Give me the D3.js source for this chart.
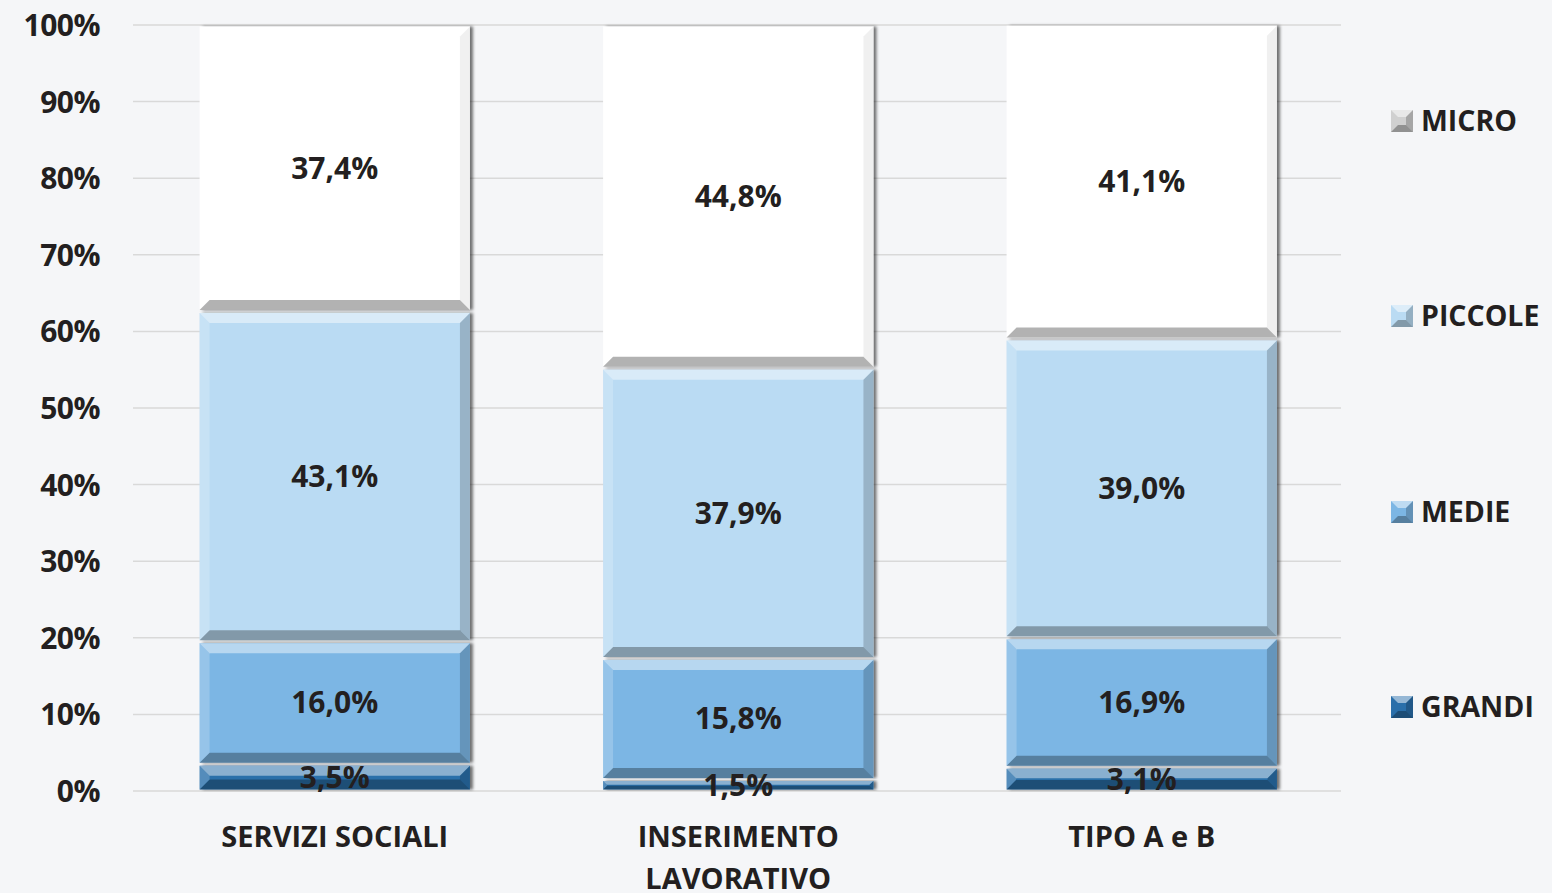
<!DOCTYPE html>
<html><head><meta charset="utf-8">
<script src="https://cdn.jsdelivr.net/npm/d3@7"></script>
<style>
html,body{margin:0;padding:0;background:#f5f6f8;}
text{font-family:"Open Sans",sans-serif;font-weight:700;fill:#231f20;}
</style></head>
<body>
<svg id="c" width="1552" height="893"></svg>
<script>
const categories = [["SERVIZI SOCIALI"], ["INSERIMENTO", "LAVORATIVO"], ["TIPO A e B"]];
const seriesNames = ["GRANDI", "MEDIE", "PICCOLE", "MICRO"];
const grandi  = [3.5, 1.5, 3.1];
const medie   = [16.0, 15.8, 16.9];
const piccole = [43.1, 37.9, 39.0];
const micro   = [37.4, 44.8, 41.1];
const yTicks = [0,10,20,30,40,50,60,70,80,90,100];
const colors = {GRANDI:"#2a6faa", MEDIE:"#7cb6e4", PICCOLE:"#badbf3", MICRO:"#ffffff"};
const seriesVals = {GRANDI:grandi, MEDIE:medie, PICCOLE:piccole, MICRO:micro};

const svg = d3.select("#c");
const x = d3.scaleBand().domain(d3.range(categories.length)).range([133, 1343.5]).paddingInner(0.33).paddingOuter(0.165);
const y = d3.scaleLinear().domain([0,100]).range([791, 25]);

// gridlines
svg.append("g").selectAll("line").data(yTicks).join("line")
  .attr("x1",133).attr("x2",1341).attr("y1",d=>y(d)).attr("y2",d=>y(d))
  .attr("stroke","#d9d9d9").attr("stroke-width",1.5);

// y axis labels
const yAxis = d3.axisLeft(y).tickValues(yTicks).tickFormat(d=>d+"%").tickSize(0).tickPadding(0);
const ya = svg.append("g").attr("transform","translate(100,0)").call(yAxis);
ya.select(".domain").remove();
ya.selectAll("text").attr("font-size",30).attr("font-family","'Open Sans',sans-serif").attr("font-weight",700).attr("fill","#231f20").attr("dy","0.35em").attr("letter-spacing","-0.5");

// stack
const rows = categories.map((c,i)=>{const r={i}; seriesNames.forEach(s=>r[s]=seriesVals[s][i]); return r;});
const stack = d3.stack().keys(seriesNames)(rows);

const defs = svg.append("defs");
const f = defs.append("filter").attr("id","sh").attr("x","-10%").attr("y","-10%").attr("width","130%").attr("height","120%");
f.append("feDropShadow").attr("dx",3).attr("dy",0).attr("stdDeviation",1.5).attr("flood-color","#000").attr("flood-opacity",0.55);

const bars = svg.append("g");
stack.forEach(layer=>{
  const name = layer.key;
  layer.forEach((d,i)=>{
    const x0 = x(i), w = x.bandwidth();
    const yt = y(d[1]) + 1.5, yb = y(d[0]) - 1.5;
    const h = Math.max(yb-yt, 1);
    const g = bars.append("g");
    g.append("rect").attr("x",x0).attr("y",yt).attr("width",w).attr("height",h)
      .attr("fill",colors[name]).attr("filter","url(#sh)");
    const b = Math.min(10, h/2.2);
    const xr = x0+w, ybt = yt+h;
    const light = name==="MICRO" ? 0.0 : 0.45;
    g.append("path").attr("d",`M${x0},${yt}L${xr},${yt}L${xr-b},${yt+b}L${x0+b},${yt+b}Z`).attr("fill","#fff").attr("fill-opacity",light);
    g.append("path").attr("d",`M${x0},${ybt}L${xr},${ybt}L${xr-b},${ybt-b}L${x0+b},${ybt-b}Z`).attr("fill","#000").attr("fill-opacity",name==="MICRO"?0.3:0.3);
    g.append("path").attr("d",`M${x0},${yt}L${x0+b},${yt+b}L${x0+b},${ybt-b}L${x0},${ybt}Z`).attr("fill","#fff").attr("fill-opacity",name==="MICRO"?0:0.2);
    g.append("path").attr("d",`M${xr},${yt}L${xr-b},${yt+b}L${xr-b},${ybt-b}L${xr},${ybt}Z`).attr("fill","#000").attr("fill-opacity",name==="MICRO"?0.06:0.18);
  });
});

// data labels
const fmt = v => v.toFixed(1).replace(".",",")+"%";
const labels = svg.append("g");
stack.forEach(layer=>{
  layer.forEach((d,i)=>{
    labels.append("text").attr("x",x(i)+x.bandwidth()/2).attr("y",y((d[0]+d[1])/2))
      .attr("dy","0.35em").attr("text-anchor","middle").attr("font-size",30)
      .text(fmt(d[1]-d[0]));
  });
});

// category labels
const cat = svg.append("g");
categories.forEach((lines,i)=>{
  const t = cat.append("text").attr("text-anchor","middle").attr("font-size",29);
  lines.forEach((ln,k)=>t.append("tspan").attr("x",x(i)+x.bandwidth()/2).attr("y",847+k*42).text(ln));
});

// legend
const legY = {MICRO:121, PICCOLE:316, MEDIE:512, GRANDI:707};
const leg = svg.append("g");
seriesNames.forEach(s=>{
  const cy = legY[s], sz = 22, lx = 1391, ly = cy - sz/2;
  const lc = s==="MICRO" ? "#d0d0d0" : colors[s];
  leg.append("rect").attr("x",lx).attr("y",ly).attr("width",sz).attr("height",sz).attr("fill",lc);
  const b=7;
  leg.append("path").attr("d",`M${lx},${ly}L${lx+sz},${ly}L${lx+sz-b},${ly+b}L${lx+b},${ly+b}Z`).attr("fill","#fff").attr("fill-opacity",0.5);
  leg.append("path").attr("d",`M${lx},${ly+sz}L${lx+sz},${ly+sz}L${lx+sz-b},${ly+sz-b}L${lx+b},${ly+sz-b}Z`).attr("fill","#000").attr("fill-opacity",0.3);
  leg.append("path").attr("d",`M${lx+sz},${ly}L${lx+sz-b},${ly+b}L${lx+sz-b},${ly+sz-b}L${lx+sz},${ly+sz}Z`).attr("fill","#000").attr("fill-opacity",0.2);
  leg.append("text").attr("x",1421).attr("y",cy).attr("dy","0.35em").attr("font-size",28.5).text(s);
});
</script>
</body></html>
